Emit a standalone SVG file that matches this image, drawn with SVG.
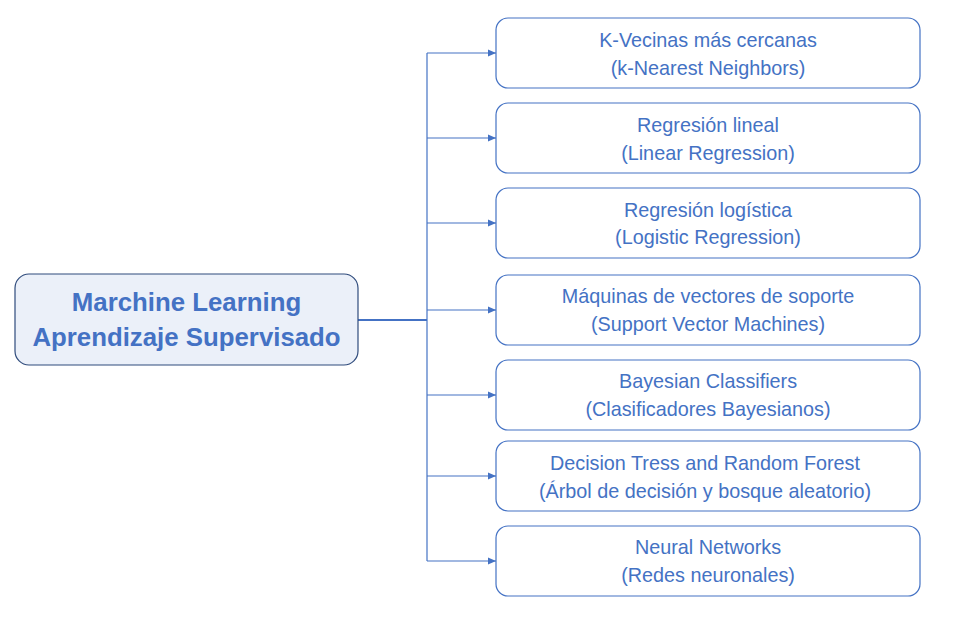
<svg xmlns="http://www.w3.org/2000/svg" width="953" height="620" viewBox="0 0 953 620">
<defs>
<marker id="arr" markerWidth="10" markerHeight="8" refX="8" refY="4" orient="auto" markerUnits="userSpaceOnUse">
<path d="M0,0.5 L8,4 L0,7.5 Z" fill="#4472C4"/>
</marker>
<style>
.box{fill:#FFFFFF;stroke:#4472C4;stroke-width:1.2}
.root{fill:#EBF0F9;stroke:#2F4B7C;stroke-width:1.2}
.t{font-family:"Liberation Sans",Arial,sans-serif;font-size:19.8px;fill:#4472C4;text-anchor:middle}
.rt{font-family:"Liberation Sans",Arial,sans-serif;font-size:25.8px;font-weight:bold;fill:#4472C4;text-anchor:middle}
.c{fill:none;stroke:#4472C4;stroke-width:1.2}
</style>
</defs>
<rect width="953" height="620" fill="#FFFFFF"/>
<g id="connectors">
<path d="M358,320 H427" class="c" style="stroke-width:2"/>
<path d="M427,53 V561" class="c"/>
<path d="M427,53 H496" class="c" marker-end="url(#arr)"/>
<path d="M427,138 H496" class="c" marker-end="url(#arr)"/>
<path d="M427,223 H496" class="c" marker-end="url(#arr)"/>
<path d="M427,310 H496" class="c" marker-end="url(#arr)"/>
<path d="M427,395 H496" class="c" marker-end="url(#arr)"/>
<path d="M427,476 H496" class="c" marker-end="url(#arr)"/>
<path d="M427,561 H496" class="c" marker-end="url(#arr)"/>
</g>
<g id="root">
<rect x="15" y="274" width="343" height="91" rx="14" class="root"/>
<text x="186.5" y="311" class="rt">Marchine Learning</text>
<text x="186.5" y="346" class="rt">Aprendizaje Supervisado</text>
</g>
<g id="knn">
<rect x="496" y="18" width="424" height="70" rx="12" class="box"/>
<text x="708" y="47" class="t">K-Vecinas más cercanas</text>
<text x="708" y="74.5" class="t">(k-Nearest Neighbors)</text>
</g>
<g id="linreg">
<rect x="496" y="103" width="424" height="70" rx="12" class="box"/>
<text x="708" y="132" class="t">Regresión lineal</text>
<text x="708" y="159.5" class="t">(Linear Regression)</text>
</g>
<g id="logreg">
<rect x="496" y="188" width="424" height="70" rx="12" class="box"/>
<text x="708" y="216.5" class="t">Regresión logística</text>
<text x="708" y="244" class="t">(Logistic Regression)</text>
</g>
<g id="svm">
<rect x="496" y="275" width="424" height="70" rx="12" class="box"/>
<text x="708" y="302.5" class="t">Máquinas de vectores de soporte</text>
<text x="708" y="331" class="t">(Support Vector Machines)</text>
</g>
<g id="bayes">
<rect x="496" y="360" width="424" height="70" rx="12" class="box"/>
<text x="708" y="388" class="t">Bayesian Classifiers</text>
<text x="708" y="416" class="t">(Clasificadores Bayesianos)</text>
</g>
<g id="trees">
<rect x="496" y="441" width="424" height="70" rx="12" class="box"/>
<text x="705" y="469.5" class="t">Decision Tress and Random Forest</text>
<text x="705" y="498" class="t">(Árbol de decisión y bosque aleatorio)</text>
</g>
<g id="nn">
<rect x="496" y="526" width="424" height="70" rx="12" class="box"/>
<text x="708" y="554" class="t">Neural Networks</text>
<text x="708" y="582" class="t">(Redes neuronales)</text>
</g>
</svg>
